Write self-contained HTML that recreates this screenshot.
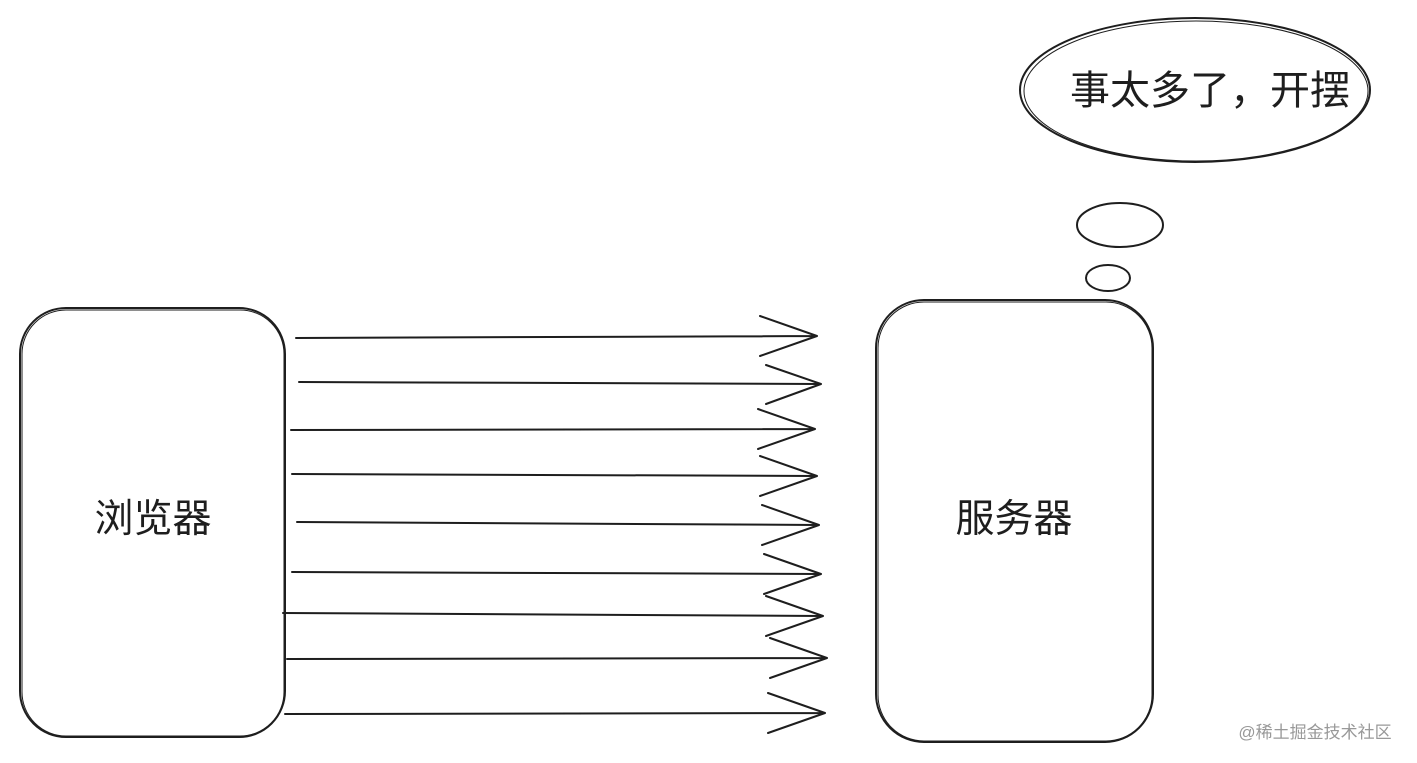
<!DOCTYPE html>
<html><head><meta charset="utf-8"><style>
html,body{margin:0;padding:0;background:#fff;}
svg{display:block}
text{font-family:"Liberation Sans","Noto Sans CJK SC",sans-serif;}
</style></head><body>
<svg width="1417" height="763" viewBox="0 0 1417 763" xmlns="http://www.w3.org/2000/svg">
<g fill="none" stroke="#1e1e1e" stroke-width="2" stroke-linecap="round" stroke-linejoin="round">
<rect x="20" y="308" width="265" height="429" rx="46"/>
<rect x="22" y="310" width="262" height="426" rx="44" stroke-width="1"/>
<rect x="876" y="300" width="277" height="442" rx="48"/>
<rect x="878" y="302" width="274" height="439" rx="46" stroke-width="1"/>
<ellipse cx="1195" cy="90" rx="175" ry="72"/>
<ellipse cx="1196" cy="91" rx="172" ry="70" stroke-width="1"/>
<ellipse cx="1120" cy="225" rx="43" ry="22"/>
<ellipse cx="1108" cy="278" rx="22" ry="13"/>
<g>
<path d="M296 338 L815 336 M760 316 L817 336 L760 356"/>
<path d="M299 382 L820 384 M766 365 L821 384 L766 404"/>
<path d="M291 430 L814 429 M758 409 L815 429 L758 449"/>
<path d="M292 474 L816 476 M760 456 L817 476 L760 496"/>
<path d="M297 522 L818 525 M762 505 L819 525 L762 545"/>
<path d="M292 572 L820 574 M764 554 L821 574 L764 594"/>
<path d="M283 613 L822 616 M766 596 L823 616 L766 636"/>
<path d="M287 659 L826 658 M770 638 L827 658 L770 678"/>
<path d="M285 714 L824 713 M768 693 L825 713 L768 733"/>
</g>
</g>
<g fill="#1e1e1e" text-anchor="middle">
<text x="153" y="532" font-size="39">浏览器</text>
<text x="1014" y="532" font-size="39">服务器</text>
<text x="1210" y="104" font-size="40">事太多了，开摆</text>
</g>
<text x="1315" y="738" font-size="17" fill="#999" text-anchor="middle">@稀土掘金技术社区</text>
</svg>
</body></html>
